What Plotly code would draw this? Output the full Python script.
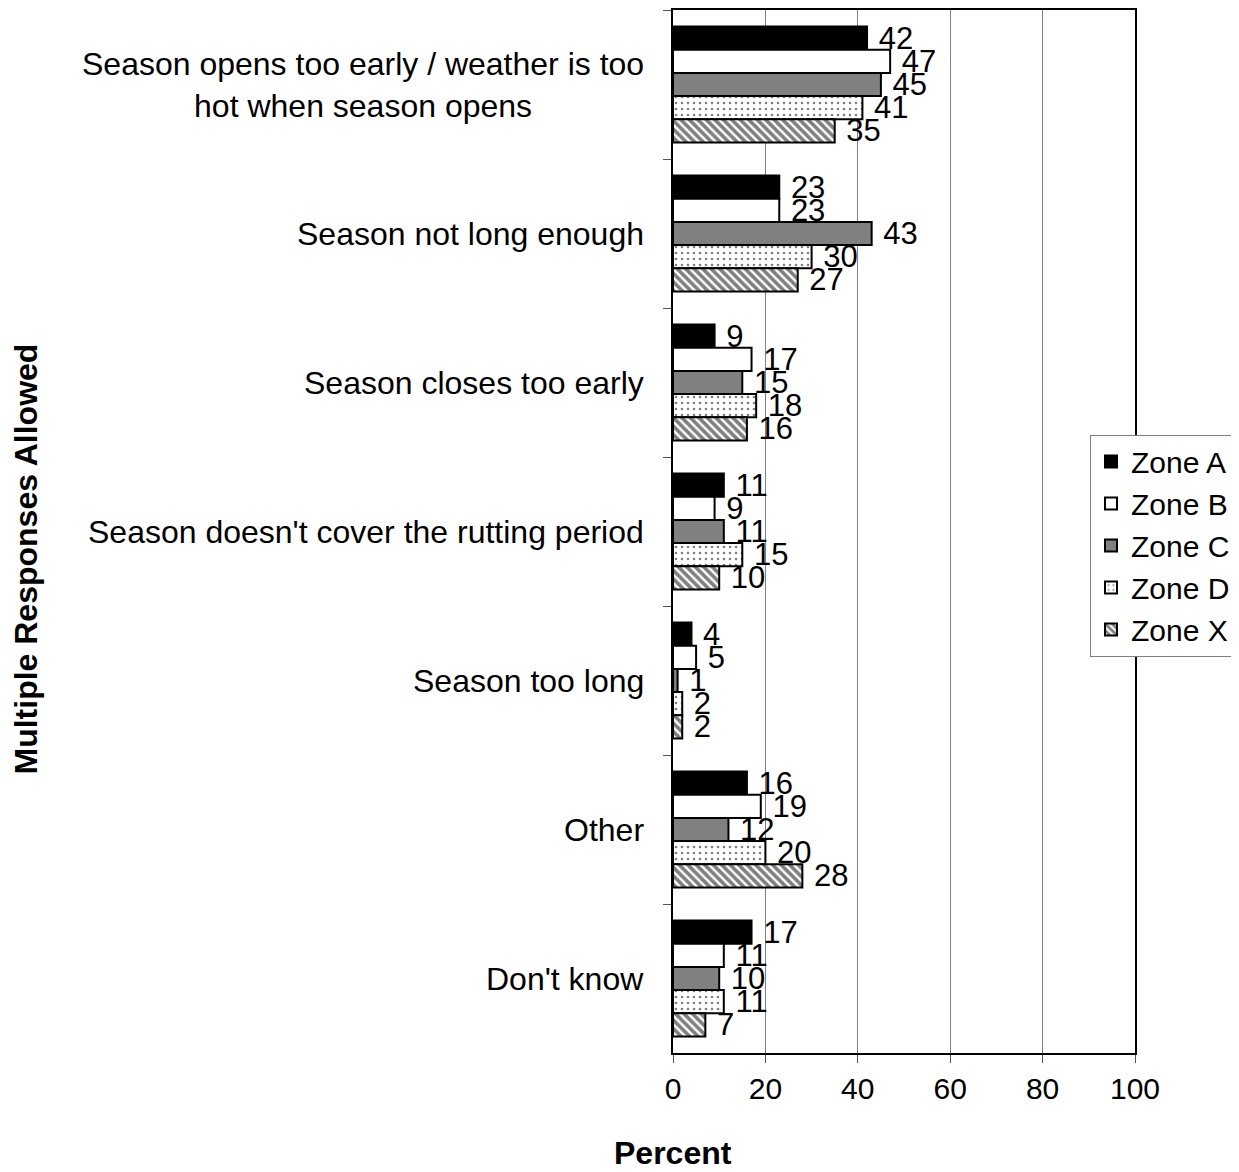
import plotly.graph_objects as go

categories = [
    "Season opens too early / weather is too<br>hot when season opens",
    "Season not long enough",
    "Season closes too early",
    "Season doesn't cover the rutting period",
    "Season too long",
    "Other",
    "Don't know",
]
zones = ["Zone A", "Zone B", "Zone C", "Zone D", "Zone X"]
zone_a = [42, 23, 9, 11, 4, 16, 17]
zone_b = [47, 23, 17, 9, 5, 19, 11]
zone_c = [45, 43, 15, 11, 1, 12, 10]
zone_d = [41, 30, 18, 15, 2, 20, 11]
zone_x = [35, 27, 16, 10, 2, 28, 7]
x_ticks = [0, 20, 40, 60, 80, 100]

FONT = "Liberation Sans"

styles = [
    dict(color="black"),
    dict(color="white"),
    dict(color="#808080"),
    dict(color="white", pattern=dict(shape=".", fgcolor="black", bgcolor="white", size=6, solidity=0.15)),
    dict(color="white", pattern=dict(shape="\\", fgcolor="black", bgcolor="white", size=6, solidity=0.6)),
]

fig = go.Figure()
for name, vals, st in zip(zones, [zone_a, zone_b, zone_c, zone_d, zone_x], styles):
    fig.add_trace(go.Bar(
        y=categories, x=vals, name=name, orientation="h",
        marker=dict(line=dict(color="black", width=2), **st),
        text=[" " + str(v) for v in vals], textposition="outside",
        constraintext="none", cliponaxis=False,
        textfont=dict(size=31, color="black", family=FONT),
    ))

# category labels (centered multi-line, right anchored)
for c in categories:
    fig.add_annotation(
        x=0, xref="paper", y=c, yref="y", xanchor="right", yanchor="middle",
        xshift=-27, text=c, showarrow=False, align="center",
        font=dict(size=32, color="black", family=FONT),
    )

# axis titles
fig.add_annotation(
    x=0, xref="paper", y=0.5, yref="paper", xshift=-648, yshift=-28,
    xanchor="center", yanchor="middle", text="<b>Multiple Responses Allowed</b>",
    textangle=-90, showarrow=False, font=dict(size=32, color="black", family=FONT),
)
fig.add_annotation(
    x=0, xref="paper", y=0, yref="paper", yshift=-100, xanchor="center", yanchor="middle",
    text="<b>Percent</b>", showarrow=False, font=dict(size=32, color="black", family=FONT),
)

fig.update_layout(
    width=1239, height=1172,
    margin=dict(l=665, r=112, t=2, b=127, autoexpand=False),
    barmode="group", bargap=0.22, bargroupgap=0,
    plot_bgcolor="white", paper_bgcolor="white",
    font=dict(family=FONT, size=30, color="black"),
    legend=dict(
        x=0.9026, y=0.593, xanchor="left", yanchor="top",
        bordercolor="#808080", borderwidth=1, bgcolor="white",
        font=dict(size=30, family=FONT), tracegroupgap=0, itemwidth=30,
    ),
    xaxis=dict(
        range=[0, 100], tickvals=x_ticks, showgrid=True, gridcolor="#808080", gridwidth=1,
        showline=True, linecolor="black", linewidth=2, mirror=True,
        ticks="outside", ticklen=8, tickcolor="#555555", zeroline=False,
        tickfont=dict(size=30, family=FONT),
    ),
    yaxis=dict(
        autorange="reversed", showticklabels=False, showline=True, linecolor="black",
        linewidth=2, mirror=True, ticks="outside", ticklen=8, tickcolor="#555555",
        tickson="boundaries", showgrid=False,
    ),
)

fig.write_html("out.html")
